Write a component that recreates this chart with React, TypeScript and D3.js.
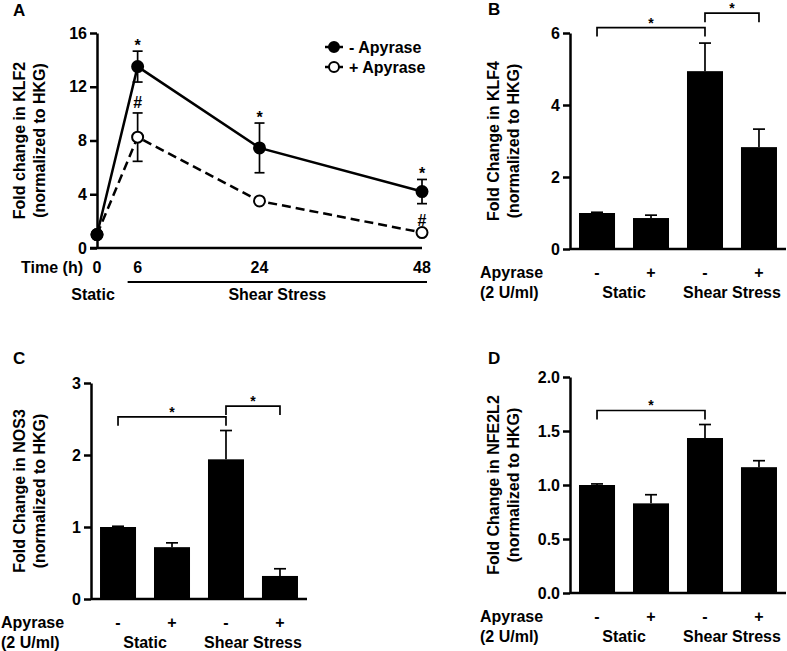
import React, { useEffect, useRef } from 'react';
import * as d3 from 'd3';

const FONT = "'Liberation Sans', Arial, Helvetica, sans-serif";

// Panel A: KLF2 time course
const timeHours = [0, 6, 24, 48];
const klf2Minus = [1.0, 13.5, 7.45, 4.2];
const klf2MinusErr = [0.1, 1.15, 1.85, 0.9];
const klf2Plus = [1.0, 8.25, 3.5, 1.15];
const klf2PlusErr = [0.1, 1.8, 0.12, 0.15];
const klf2MinusMarks = ['', '*', '*', '*'];
const klf2PlusMarks = ['', '#', '', '#'];
const klf2Ticks = [0, 4, 8, 12, 16];

// Panels B-D: bar charts
const apyraseSigns = ['-', '+', '-', '+'];
const conditions = ['Static', 'Shear Stress'];

const klf4Values = [1.0, 0.86, 4.94, 2.83];
const klf4Err = [0.02, 0.08, 0.78, 0.5];
const klf4Brackets = [
  { from: 0, to: 2, at: 6.15 },
  { from: 2, to: 3, at: 6.55 },
];

const nos3Values = [1.0, 0.72, 1.94, 0.32];
const nos3Err = [0.01, 0.06, 0.4, 0.1];
const nos3Brackets = [
  { from: 0, to: 2, at: 2.53 },
  { from: 2, to: 3, at: 2.68 },
];

const nfe2l2Values = [1.0, 0.83, 1.435, 1.165];
const nfe2l2Err = [0.01, 0.08, 0.125, 0.06];
const nfe2l2Brackets = [{ from: 0, to: 2, at: 1.69 }];

const boldText = (sel, size = 16) =>
  sel
    .attr('font-family', FONT)
    .attr('font-weight', 'bold')
    .attr('font-size', size)
    .attr('fill', '#000');

const drawYAxis = (g, y, x0, ticks, fmt) => {
  const ax = g
    .append('g')
    .attr('transform', `translate(${x0},0)`)
    .call(
      d3.axisLeft(y).tickValues(ticks).tickFormat(fmt).tickSize(7).tickPadding(3).tickSizeOuter(0)
    );
  boldText(ax);
  ax.selectAll('text').attr('fill', '#000');
  ax.select('.domain').attr('stroke', '#000').attr('stroke-width', 2.5);
  ax.selectAll('.tick line').attr('stroke', '#000').attr('stroke-width', 2.5);
};

const drawYLabel = (g, lines, xs, cy) => {
  lines.forEach((t, i) => {
    boldText(g.append('text'))
      .attr('transform', `translate(${xs[i]},${cy}) rotate(-90)`)
      .attr('text-anchor', 'middle')
      .text(t);
  });
};

const drawPanelA = (svg) => {
  const g = svg.append('g');
  const x = d3.scaleLinear().domain([0, 48]).range([97, 422]);
  const y = d3.scaleLinear().domain([0, 16]).range([248, 33]);

  boldText(g.append('text'), 17).attr('x', 13).attr('y', 16).text('A');

  drawYAxis(g, y, 97, klf2Ticks, d3.format('d'));
  // x baseline
  g.append('line')
    .attr('x1', x(0) - 7)
    .attr('x2', x(48))
    .attr('y1', y(0))
    .attr('y2', y(0))
    .attr('stroke', '#000')
    .attr('stroke-width', 2.5);

  drawYLabel(g, ['Fold change in KLF2', '(normalized to HKG)'], [25, 45], (y(0) + y(16)) / 2);

  // time labels
  boldText(g.append('text')).attr('x', 83).attr('y', 273).attr('text-anchor', 'end').text('Time (h)');
  timeHours.forEach((t) => {
    boldText(g.append('text')).attr('x', x(t)).attr('y', 273).attr('text-anchor', 'middle').text(t);
  });
  g.append('line')
    .attr('x1', x(6) - 10)
    .attr('x2', x(48) + 5)
    .attr('y1', 282)
    .attr('y2', 282)
    .attr('stroke', '#000')
    .attr('stroke-width', 2);
  boldText(g.append('text')).attr('x', 93).attr('y', 300).attr('text-anchor', 'middle').text(conditions[0]);
  boldText(g.append('text'))
    .attr('x', (x(6) - 10 + x(48) + 5) / 2)
    .attr('y', 300)
    .attr('text-anchor', 'middle')
    .text(conditions[1]);

  const series = [
    { vals: klf2Plus, err: klf2PlusErr, marks: klf2PlusMarks, dash: '9,5', fill: '#fff', markDy: -5 },
    { vals: klf2Minus, err: klf2MinusErr, marks: klf2MinusMarks, dash: null, fill: '#000', markDy: 0 },
  ];

  // error bars and significance marks
  series.forEach((s) => {
    s.vals.forEach((v, i) => {
      const cx = x(timeHours[i]);
      const lo = y(v - s.err[i]);
      const hi = y(v + s.err[i]);
      const eb = g.append('g').attr('stroke', '#000').attr('stroke-width', 1.7);
      eb.append('line').attr('x1', cx).attr('x2', cx).attr('y1', lo).attr('y2', hi);
      eb.append('line').attr('x1', cx - 5).attr('x2', cx + 5).attr('y1', lo).attr('y2', lo);
      eb.append('line').attr('x1', cx - 5).attr('x2', cx + 5).attr('y1', hi).attr('y2', hi);
      if (s.marks[i]) {
        boldText(g.append('text'))
          .attr('x', cx)
          .attr('y', hi + s.markDy)
          .attr('text-anchor', 'middle')
          .text(s.marks[i]);
      }
    });
  });

  // lines
  series.forEach((s) => {
    const line = d3
      .line()
      .x((d, i) => x(timeHours[i]))
      .y((d) => y(d));
    g.append('path')
      .attr('d', line(s.vals))
      .attr('fill', 'none')
      .attr('stroke', '#000')
      .attr('stroke-width', 2.5)
      .attr('stroke-dasharray', s.dash);
  });

  // markers (filled series on top)
  series.forEach((s) => {
    s.vals.forEach((v, i) => {
      g.append('circle')
        .attr('cx', x(timeHours[i]))
        .attr('cy', y(v))
        .attr('r', 5.5)
        .attr('fill', s.fill)
        .attr('stroke', '#000')
        .attr('stroke-width', 2);
    });
  });

  // legend
  const legend = [
    { label: '- Apyrase', fill: '#000' },
    { label: '+ Apyrase', fill: '#fff' },
  ];
  legend.forEach((l, i) => {
    const ly = 47 + i * 20;
    g.append('line').attr('x1', 325).attr('x2', 343).attr('y1', ly).attr('y2', ly).attr('stroke', '#000').attr('stroke-width', 2.5);
    g.append('circle').attr('cx', 334).attr('cy', ly).attr('r', 5).attr('fill', l.fill).attr('stroke', '#000').attr('stroke-width', 2);
    boldText(g.append('text')).attr('x', 349).attr('y', ly + 6).text(l.label);
  });
};

const drawBarPanel = (svg, cfg) => {
  const { letter, gene, values, errs, brackets, x0, y0, yTop, max, ticks, fmt, labelXs } = cfg;
  const g = svg.append('g');
  const x = d3.scaleBand().domain(d3.range(values.length)).range([x0, x0 + 216]).paddingInner(0.333).paddingOuter(0.167);
  const y = d3.scaleLinear().domain([0, max]).range([y0, yTop]);
  const cx = (i) => x(i) + x.bandwidth() / 2;

  boldText(g.append('text'), 17).attr('x', cfg.letterX).attr('y', cfg.letterY).text(letter);

  g.selectAll('rect')
    .data(values)
    .join('rect')
    .attr('x', (d, i) => x(i))
    .attr('y', (d) => y(d))
    .attr('width', x.bandwidth())
    .attr('height', (d) => y0 - y(d))
    .attr('fill', '#000');

  values.forEach((v, i) => {
    const top = y(v + errs[i]);
    const eb = g.append('g').attr('stroke', '#000').attr('stroke-width', 1.7);
    eb.append('line').attr('x1', cx(i)).attr('x2', cx(i)).attr('y1', y(v)).attr('y2', top);
    eb.append('line').attr('x1', cx(i) - 6).attr('x2', cx(i) + 6).attr('y1', top).attr('y2', top);
  });

  drawYAxis(g, y, x0, ticks, fmt);
  g.append('line')
    .attr('x1', x0)
    .attr('x2', x0 + 216)
    .attr('y1', y0)
    .attr('y2', y0)
    .attr('stroke', '#000')
    .attr('stroke-width', 2.5);

  drawYLabel(g, [`Fold Change in ${gene}`, '(normalized to HKG)'], labelXs, (y0 + yTop) / 2);

  brackets.forEach((b) => {
    const by = y(b.at);
    g.append('path')
      .attr('d', `M${cx(b.from)},${by + 9}V${by}H${cx(b.to)}V${by + 9}`)
      .attr('fill', 'none')
      .attr('stroke', '#000')
      .attr('stroke-width', 1.7);
    boldText(g.append('text'), 14)
      .attr('x', (cx(b.from) + cx(b.to)) / 2)
      .attr('y', by)
      .attr('text-anchor', 'middle')
      .text('*');
  });

  // category labels
  const row1 = y0 + 29;
  const row2 = y0 + 49;
  boldText(g.append('text')).attr('x', x0 - 90).attr('y', row1).text('Apyrase');
  boldText(g.append('text')).attr('x', x0 - 90).attr('y', row2).text('(2 U/ml)');
  apyraseSigns.forEach((s, i) => {
    boldText(g.append('text')).attr('x', cx(i)).attr('y', row1).attr('text-anchor', 'middle').text(s);
  });
  conditions.forEach((c, k) => {
    boldText(g.append('text'))
      .attr('x', (cx(2 * k) + cx(2 * k + 1)) / 2)
      .attr('y', row2)
      .attr('text-anchor', 'middle')
      .text(c);
  });
};

const App = () => {
  const svgRef = useRef(null);

  useEffect(() => {
    const svg = d3.select(svgRef.current);
    svg.selectAll('*').remove();

    drawPanelA(svg);

    drawBarPanel(svg, {
      letter: 'B', letterX: 488, letterY: 15, gene: 'KLF4',
      values: klf4Values, errs: klf4Err, brackets: klf4Brackets,
      x0: 570, y0: 249, yTop: 33, max: 6, ticks: [0, 2, 4, 6], fmt: d3.format('d'),
      labelXs: [499, 519],
    });
    drawBarPanel(svg, {
      letter: 'C', letterX: 13, letterY: 364, gene: 'NOS3',
      values: nos3Values, errs: nos3Err, brackets: nos3Brackets,
      x0: 91, y0: 599, yTop: 383, max: 3, ticks: [0, 1, 2, 3], fmt: d3.format('d'),
      labelXs: [25, 45],
    });
    drawBarPanel(svg, {
      letter: 'D', letterX: 488, letterY: 364, gene: 'NFE2L2',
      values: nfe2l2Values, errs: nfe2l2Err, brackets: nfe2l2Brackets,
      x0: 570, y0: 593, yTop: 377, max: 2, ticks: [0, 0.5, 1, 1.5, 2], fmt: d3.format('.1f'),
      labelXs: [499, 519],
    });
  }, []);

  return (
    <svg
      ref={svgRef}
      width={787}
      height={651}
      style={{ position: 'absolute', left: 0, top: 0, background: '#fff' }}
    />
  );
};

export default App;
